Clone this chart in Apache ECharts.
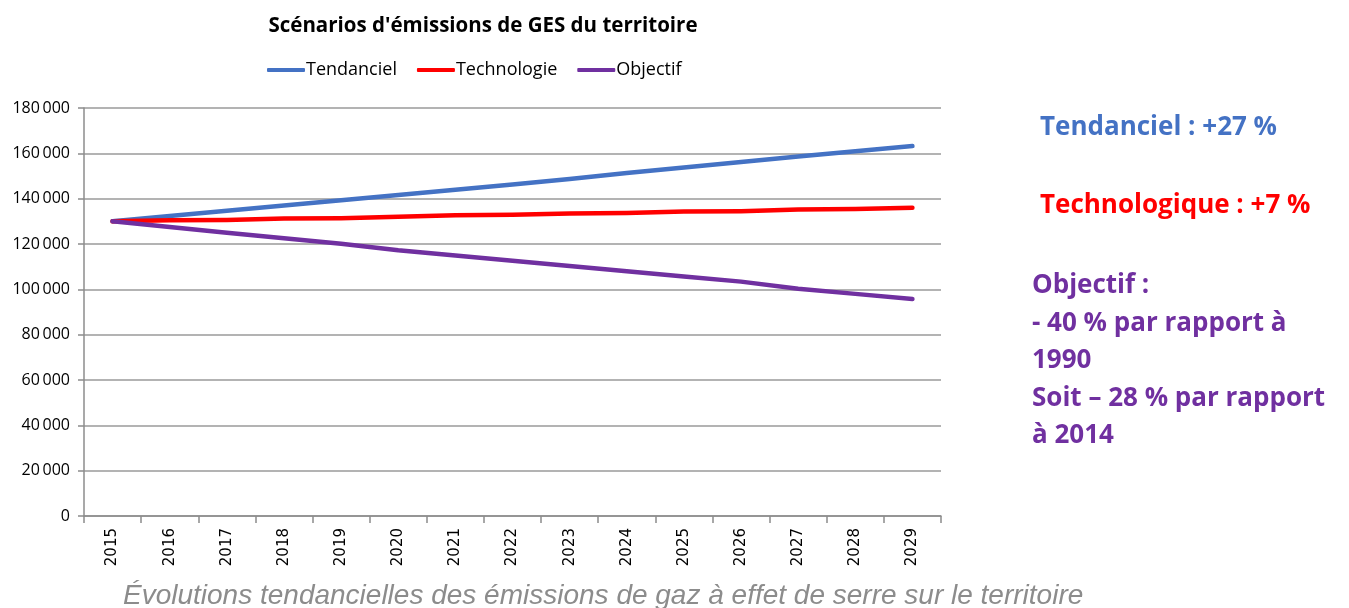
<!DOCTYPE html>
<html>
<head>
<meta charset="utf-8">
<script src="https://cdn.jsdelivr.net/npm/echarts@6/dist/echarts.min.js"></script>
<style>
  html, body { margin: 0; padding: 0; background: #ffffff; }
  #chart { width: 1349px; height: 608px; }
</style>
</head>
<body>
<div id="chart"></div>
<script>
// Years of the projection
const years = ['2015', '2016', '2017', '2018', '2019', '2020', '2021', '2022',
               '2023', '2024', '2025', '2026', '2027', '2028', '2029'];

// Emissions per scenario (t CO2e)
const tendanciel = [130000, 132400, 134700, 137000, 139300, 141600, 143900, 146200,
                    148700, 151300, 153800, 156200, 158600, 160900, 163200];
const technologie = [130000, 130500, 130600, 131200, 131400, 132000, 132700, 132900,
                     133500, 133700, 134300, 134500, 135200, 135400, 136000];
const objectif = [130000, 127500, 125000, 122500, 120100, 117200, 114900, 112600,
                  110300, 108000, 105700, 103400, 100300, 98000, 95700];

// Y axis ticks
const yMin = 0, yMax = 180000, yStep = 20000;

const COLORS = { blue: '#4472C4', red: '#FF0000', purple: '#7030A0' };

const chart = echarts.init(document.getElementById('chart'), null, { renderer: 'canvas' });

function fmtThousands(v) {
  return String(v).replace(/\B(?=(\d{3})+(?!\d))/g, '\u2009');
}

const lineSeries = (name, data, color) => ({
  name, type: 'line', data,
  symbol: 'none', smooth: false,
  lineStyle: { color, width: 4.5, cap: 'round', join: 'round' },
  itemStyle: { color },
  animation: false
});

chart.setOption({
  backgroundColor: '#ffffff',
  animation: false,
  title: {
    text: "Scénarios d'émissions de GES du territoire",
    left: 478, top: 11, textAlign: 'center',
    textStyle: { fontFamily: 'Open Sans', fontWeight: 'bold', fontSize: 20.5, color: '#000' }
  },
  legend: {
    left: 262, top: 56,
    itemWidth: 38, itemGap: 20, itemHeight: 4,
    icon: 'roundRect',
    textStyle: { fontFamily: 'Open Sans', fontSize: 18, color: '#000', padding: [0, 0, 0, -4] },
    data: ['Tendanciel', 'Technologie', 'Objectif']
  },
  grid: { left: 84, right: 408, top: 108, bottom: 92, containLabel: false },
  xAxis: {
    type: 'category',
    data: years,
    boundaryGap: true,
    axisLine: { lineStyle: { color: '#8c8c8c', width: 1.5 } },
    axisTick: { show: true, alignWithLabel: false, length: 7, lineStyle: { color: '#8c8c8c', width: 1.5 } },
    axisLabel: {
      rotate: 90, interval: 0, margin: 12,
      fontFamily: 'DejaVu Sans', fontSize: 15, color: '#000'
    }
  },
  yAxis: {
    type: 'value',
    min: yMin, max: yMax, interval: yStep,
    axisLine: { show: true, lineStyle: { color: '#8c8c8c', width: 1.5 } },
    axisTick: { show: true, length: 6, lineStyle: { color: '#8c8c8c', width: 1.5 } },
    splitLine: { lineStyle: { color: '#9a9a9a', width: 1.5 } },
    axisLabel: {
      margin: 14, formatter: fmtThousands,
      fontFamily: 'Open Sans', fontSize: 16, color: '#000'
    }
  },
  series: [
    lineSeries('Tendanciel', tendanciel, COLORS.blue),
    lineSeries('Technologie', technologie, COLORS.red),
    lineSeries('Objectif', objectif, COLORS.purple)
  ],
  graphic: [
    { type: 'text', left: 1040, top: 115,
      style: { text: 'Tendanciel : +27 %', fill: COLORS.blue,
               font: 'bold 26px "Open Sans"' } },
    { type: 'text', left: 1040, top: 193,
      style: { text: 'Technologique : +7 %', fill: COLORS.red,
               font: 'bold 26px "Open Sans"' } },
    { type: 'text', left: 1032, top: 267,
      style: { text: 'Objectif :\n- 40 % par rapport à\n1990\nSoit \u2013 28 % par rapport\nà 2014',
               fill: COLORS.purple, lineHeight: 37.5,
               font: 'bold 26px "Open Sans"' } },
    { type: 'text', left: 123, top: 582,
      style: { text: 'Évolutions tendancielles des émissions de gaz à effet de serre sur le territoire',
               fill: '#8c8c8c', font: 'italic 28px "Liberation Sans"' } }
  ]
});
</script>
</body>
</html>
